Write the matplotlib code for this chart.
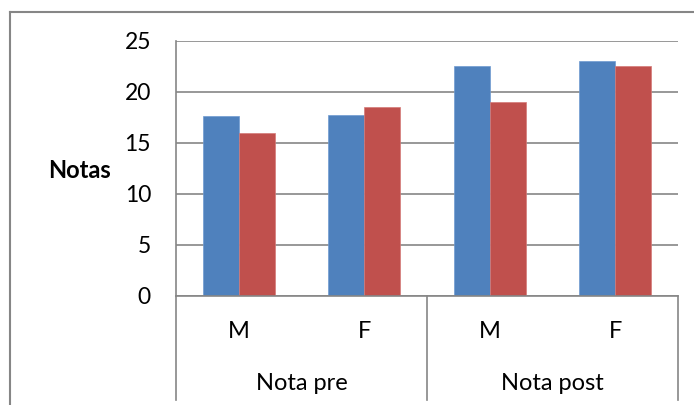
import matplotlib.pyplot as plt
import numpy as np
from matplotlib.lines import Line2D

plt.rcParams['font.family'] = ['Lato', 'DejaVu Sans']

# data
sexes = ['M', 'F', 'M', 'F']
groups = ['Nota pre', 'Nota post']
serie1 = [17.6, 17.7, 22.5, 23.0]
serie2 = [16.0, 18.5, 19.0, 22.5]
yticks = [0, 5, 10, 15, 20, 25]

blue = '#4F81BD'
red = '#C0504D'
grey = '#868686'

fig = plt.figure(figsize=(6.94, 4.05), dpi=100)
ax = fig.add_axes([176 / 694, 1 - 296 / 405, (678 - 176) / 694, 255 / 405])

x = np.arange(len(sexes))
w = 1 / 3.5  # gap width 150%
ax.bar(x - w / 2, serie1, w, color=blue, edgecolor='#6f9bd1', linewidth=0.5, zorder=3)
ax.bar(x + w / 2, serie2, w, color=red, edgecolor='#d47a78', linewidth=0.5, zorder=3)

ax.set_xlim(-0.5, 3.5)
ax.set_ylim(0, 25)
ax.set_yticks(yticks)
ax.set_yticklabels([str(t) for t in yticks], fontsize=16.5)
ax.tick_params(axis='y', length=0, pad=18)
ax.set_xticks([])
ax.yaxis.grid(True, color=grey, linewidth=1.2, zorder=0)
for s in ['top', 'right', 'bottom']:
    ax.spines[s].set_visible(False)
ax.spines['left'].set_color(grey)
ax.spines['left'].set_linewidth(1.2)
ax.axhline(0, color=grey, linewidth=1.2, zorder=4, clip_on=False)

# multi-level category axis
trans = ax.get_xaxis_transform()
for xv in [-0.5, 1.5, 3.5]:
    ax.plot([xv, xv], [0, -104 / 255], color=grey, linewidth=1.2,
            transform=trans, clip_on=False)
for i, s in enumerate(sexes):
    ax.text(x[i], -36 / 255, s, transform=trans, ha='center', va='center', fontsize=17)
for j, g in enumerate(groups):
    ax.text(0.5 + 2 * j, -87 / 255, g, transform=trans, ha='center', va='center', fontsize=17)

fig.text(80 / 694, 1 - 170 / 405, 'Notas', ha='center', va='center',
         fontsize=17, fontweight='bold')

# chart area border (partly cut off in the reference)
fig.add_artist(Line2D([10 / 694, 10 / 694], [0, 1 - 12 / 405], color=grey, linewidth=1.5))
fig.add_artist(Line2D([10 / 694, 1], [1 - 12 / 405, 1 - 12 / 405], color=grey, linewidth=1.5))

fig.savefig('out.png', dpi=100)
